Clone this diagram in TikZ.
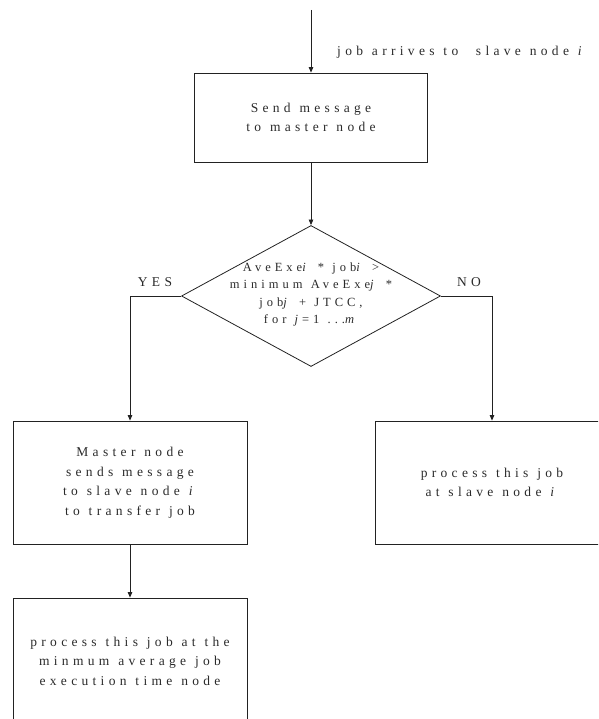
\documentclass[tikz,border=0pt]{standalone}
\usepackage{fontspec}
\setmainfont{Liberation Serif}[LetterSpace=32,WordSpace=1.15]
\usetikzlibrary{arrows.meta,shapes.geometric}
\definecolor{linec}{HTML}{222222}
\definecolor{textc}{HTML}{2A2A2A}
\begin{document}
\begin{tikzpicture}[x=1pt,y=-1pt,
  boxnode/.style={draw=linec, line width=0.8pt, inner sep=0pt, align=center, text=textc,
    minimum width=234pt, font=\fontsize{13.5}{19.5}\selectfont},
  lbl/.style={inner sep=0pt, text=textc, font=\fontsize{13.5}{15}\selectfont},
  arr/.style={draw=linec, line width=0.8pt, -{Triangle[length=5.5pt,width=4.5pt]}},
  conn/.style={draw=linec, line width=0.8pt}]
\useasboundingbox (0,0) rectangle (598,719);
\clip (0,0) rectangle (598,719);
\node[boxnode, minimum width=233pt, minimum height=89pt] (send) at (311,117.5) {Send message\\to master node};
\node[diamond, draw=linec, line width=0.8pt, inner sep=0pt, minimum width=259pt, minimum height=141pt] (dia) at (311,296) {};
\node[align=center, inner sep=0pt, text=textc, font=\fontsize{12.5}{17.5}\selectfont] (diatext) at ([yshift=1.5pt]dia.center)
  {AveExe\textit{i} * job\textit{i} >\\minimum AveExe\textit{j} *\\job\textit{j} + JTCC,\\for \textit{j}=1 ...\textit{m}};
\node[boxnode, minimum height=123pt] (master) at (130,482.5) {Master node\\sends message\\to slave node \textit{i}\\to transfer job};
\node[boxnode, minimum height=123pt] (slave) at (492,482.5) {process this job\\at slave node \textit{i}};
\node[boxnode, minimum height=126pt] (minnode) at (130,661) {process this job at the\\minmum average job\\execution time node};
\coordinate (start) at (311,10);
\node[lbl, anchor=west] (arrives) at (337,52) {job arrives to\ \ slave node \textit{i}};
\node[lbl] (yes) at (155,282) {YES};
\node[lbl] (no) at (469,282) {NO};
\draw[arr] (start) -- (send.north);
\draw[arr] (send.south) -- (dia.north);
\draw[arr] (dia.west) -| (master.north);
\draw[arr] (dia.east) -| (slave.north);
\draw[arr] (master.south) -- (minnode.north);
\end{tikzpicture}
\end{document}
